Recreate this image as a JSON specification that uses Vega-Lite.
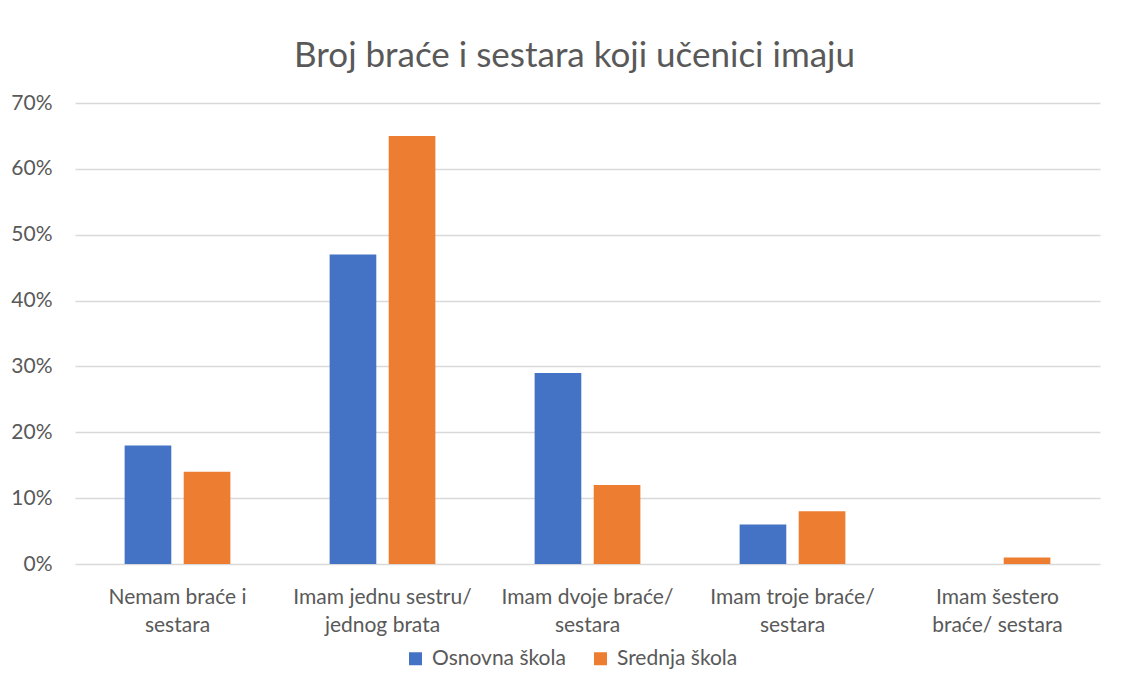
{
  "$schema": "https://vega.github.io/schema/vega-lite/v6.json",
  "width": 1025,
  "height": 461,
  "autosize": "none",
  "padding": {"left": 75, "top": 103, "right": 27, "bottom": 127},
  "background": "white",
  "config": {
    "font": "Lato",
    "view": {"stroke": null}
  },
  "title": {
    "text": "Broj braće i sestara koji učenici imaju",
    "fontSize": 35,
    "font": "Lato",
    "fontWeight": "normal",
    "color": "#595959",
    "anchor": "middle",
    "dx": -13,
    "offset": 18
  },
  "data": {
    "values": [
      {"kategorija": "Nemam braće i sestara", "skola": "Osnovna škola", "udio": 0.18},
      {"kategorija": "Nemam braće i sestara", "skola": "Srednja škola", "udio": 0.14},
      {"kategorija": "Imam jednu sestru/ jednog brata", "skola": "Osnovna škola", "udio": 0.47},
      {"kategorija": "Imam jednu sestru/ jednog brata", "skola": "Srednja škola", "udio": 0.65},
      {"kategorija": "Imam dvoje braće/ sestara", "skola": "Osnovna škola", "udio": 0.29},
      {"kategorija": "Imam dvoje braće/ sestara", "skola": "Srednja škola", "udio": 0.12},
      {"kategorija": "Imam troje braće/ sestara", "skola": "Osnovna škola", "udio": 0.06},
      {"kategorija": "Imam troje braće/ sestara", "skola": "Srednja škola", "udio": 0.08},
      {"kategorija": "Imam šestero braće/ sestara", "skola": "Osnovna škola", "udio": 0.0},
      {"kategorija": "Imam šestero braće/ sestara", "skola": "Srednja škola", "udio": 0.01}
    ]
  },
  "mark": {"type": "bar"},
  "encoding": {
    "x": {
      "field": "kategorija",
      "type": "nominal",
      "sort": null,
      "scale": {"paddingInner": 0, "paddingOuter": 0},
      "axis": {
        "title": null,
        "domain": false,
        "ticks": false,
        "labelAngle": 0,
        "labelFontSize": 21,
        "labelColor": "#595959",
        "labelPadding": 22,
        "labelLineHeight": 28,
        "labelLimit": 300,
        "labelOverlap": false,
        "labelExpr": "datum.value == 'Nemam braće i sestara' ? ['Nemam braće i', 'sestara'] : datum.value == 'Imam jednu sestru/ jednog brata' ? ['Imam jednu sestru/', 'jednog brata'] : datum.value == 'Imam dvoje braće/ sestara' ? ['Imam dvoje braće/', 'sestara'] : datum.value == 'Imam troje braće/ sestara' ? ['Imam troje braće/', 'sestara'] : ['Imam šestero', 'braće/ sestara']"
      }
    },
    "xOffset": {
      "field": "skola",
      "type": "nominal",
      "scale": {"paddingInner": 0.21, "paddingOuter": 0.84}
    },
    "y": {
      "field": "udio",
      "type": "quantitative",
      "scale": {"domain": [0, 0.7], "nice": false},
      "axis": {
        "title": null,
        "format": ".0%",
        "values": [0, 0.1, 0.2, 0.3, 0.4, 0.5, 0.6, 0.7],
        "domain": false,
        "ticks": false,
        "labelOverlap": false,
        "labelFlush": false,
        "labelFontSize": 21,
        "labelColor": "#595959",
        "labelPadding": 23,
        "gridColor": "#d9d9d9",
        "gridWidth": 1.3
      }
    },
    "color": {
      "field": "skola",
      "type": "nominal",
      "scale": {"domain": ["Osnovna škola", "Srednja škola"], "range": ["#4472C4", "#ED7D31"]},
      "legend": {
        "title": null,
        "orient": "none",
        "direction": "horizontal",
        "legendX": 330,
        "legendY": 545,
        "symbolType": "square",
        "symbolSize": 169,
        "symbolStrokeWidth": 0,
        "symbolOpacity": 1,
        "labelFontSize": 21,
        "labelColor": "#595959",
        "labelOffset": 6,
        "labelLimit": 300,
        "columnPadding": 24
      }
    }
  }
}
